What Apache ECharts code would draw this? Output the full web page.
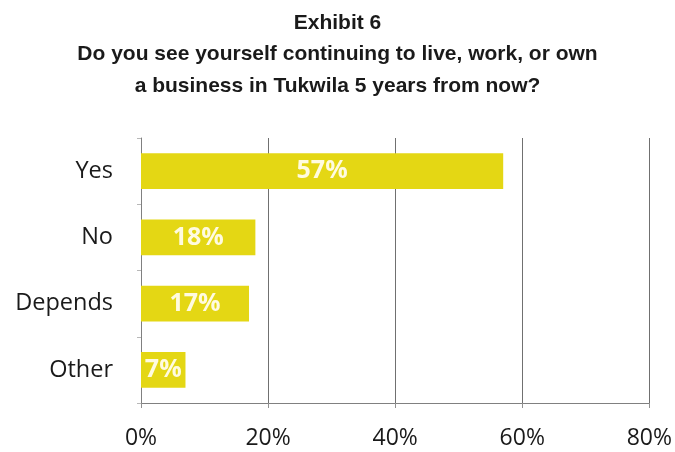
<!DOCTYPE html>
<html>
<head>
<meta charset="utf-8">
<script src="https://cdn.jsdelivr.net/npm/echarts@6/dist/echarts.min.js"></script>
<style>html,body{margin:0;padding:0;background:#fff}#c{width:675px;height:452px}</style>
</head>
<body>
<div id="c"></div>
<script>
var categories = ["Yes", "No", "Depends", "Other"];
var values = [57, 18, 17, 7];
var xTicks = [0, 20, 40, 60, 80];

var chart = echarts.init(document.getElementById('c'));
chart.setOption({
  backgroundColor: '#fff',
  animation: false,
  title: {
    text: 'Exhibit 6\nDo you see yourself continuing to live, work, or own\na business in Tukwila 5 years from now?',
    left: 'center',
    top: 2,
    textStyle: {
      fontFamily: '"Liberation Sans Narrow", "Liberation Sans", Arial',
      fontWeight: 'bold',
      fontSize: 21,
      lineHeight: 31.5,
      color: '#1a1a1a'
    }
  },
  grid: { left: 141, right: 25, top: 138, bottom: 49, containLabel: false },
  xAxis: {
    type: 'value',
    min: xTicks[0],
    max: xTicks[xTicks.length - 1],
    interval: 20,
    axisLine: { show: true, lineStyle: { color: '#808080', width: 1 } },
    axisTick: { show: true, length: 5, lineStyle: { color: '#909090' } },
    splitLine: { show: true, lineStyle: { color: '#707070', width: 1 } },
    axisLabel: {
      formatter: function (v) { return v + '%'; },
      fontFamily: '"Open Sans", Lato, sans-serif',
      fontSize: 23,
      color: '#1a1a1a',
      margin: 24
    }
  },
  yAxis: {
    type: 'category',
    data: categories,
    inverse: true,
    axisLine: { show: true, lineStyle: { color: '#808080', width: 1 } },
    axisTick: { show: true, length: 4, lineStyle: { color: '#b8b8b8' } },
    axisLabel: {
      fontFamily: '"Open Sans", Lato, sans-serif',
      fontSize: 23.5,
      color: '#1a1a1a',
      margin: 28
    }
  },
  series: [{
    type: 'bar',
    data: values,
    barWidth: '54%',
    itemStyle: { color: '#e4d714' },
    label: {
      show: true,
      position: 'inside',
      formatter: '{c}%',
      color: '#fffbe0',
      fontFamily: '"Open Sans", Lato, sans-serif',
      fontWeight: 'bold',
      fontSize: 25
    }
  }]
});
</script>
</body>
</html>
